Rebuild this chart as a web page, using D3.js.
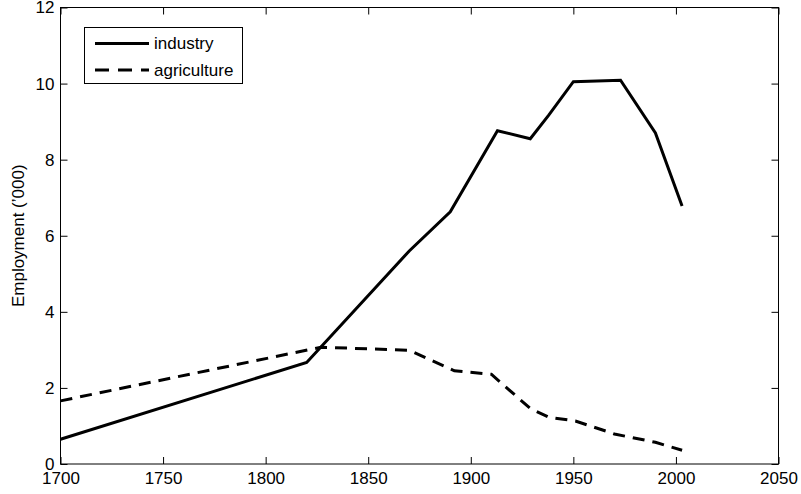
<!DOCTYPE html>
<html><head><meta charset="utf-8">
<script src="https://cdn.jsdelivr.net/npm/d3@7"></script>
<style>
body{margin:0;background:#fff;}
text{font-family:"Liberation Sans",Arial,Helvetica,sans-serif;fill:#000;}
</style></head>
<body><svg id="c" width="801" height="494"></svg>
<script>
const industryYears = [1700,1820,1870,1890,1913,1929,1938,1950,1973,1990,2003];
const industryValues = [0.65,2.67,5.6,6.63,8.76,8.55,9.17,10.05,10.09,8.7,6.78];
const agricultureYears = [1700,1827,1870,1892,1910,1929,1938,1951,1970,1990,2003];
const agricultureValues = [1.66,3.07,2.99,2.45,2.36,1.46,1.23,1.13,0.79,0.57,0.36];
const xTicks = [1700,1750,1800,1850,1900,1950,2000,2050];
const yTicks = [0,2,4,6,8,10,12];
const seriesNames = ["industry","agriculture"];
const yLabel = "Employment (\u2019000)";

const svg = d3.select("#c");
const L=60.5, R=778.5, T=7.5, B=464;
const x = d3.scaleLinear().domain([1700,2050]).range([L,R]);
const y = d3.scaleLinear().domain([0,12]).range([B,T]);
const fs = 17;

// box
svg.append("rect").attr("x",L).attr("y",T).attr("width",R-L).attr("height",B-T)
  .attr("fill","none").attr("stroke","#000").attr("stroke-width",1);

const tl=7;
const gx = svg.append("g").attr("transform",`translate(0,${B})`)
  .call(d3.axisBottom(x).tickValues(xTicks).tickFormat(d3.format("d")).tickSizeInner(-tl).tickSizeOuter(0).tickPadding(8));
const gxt = svg.append("g").attr("transform",`translate(0,${T})`)
  .call(d3.axisTop(x).tickValues(xTicks).tickFormat("").tickSizeInner(-tl).tickSizeOuter(0));
const gy = svg.append("g").attr("transform",`translate(${L},0)`)
  .call(d3.axisLeft(y).tickValues(yTicks).tickFormat(d3.format("d")).tickSizeInner(-tl).tickSizeOuter(0).tickPadding(6));
const gyr = svg.append("g").attr("transform",`translate(${R},0)`)
  .call(d3.axisRight(y).tickValues(yTicks).tickFormat("").tickSizeInner(-tl).tickSizeOuter(0));
[gx,gxt,gy,gyr].forEach(g=>{
  g.select(".domain").remove();
  g.selectAll("line").attr("stroke","#000");
  g.selectAll("text").attr("font-size",fs).attr("font-family","Liberation Sans, Arial, sans-serif").attr("fill","#000");
});

const line = d3.line().x(d=>x(d[0])).y(d=>y(d[1]));
const ind = industryYears.map((v,i)=>[v,industryValues[i]]);
const agr = agricultureYears.map((v,i)=>[v,agricultureValues[i]]);
const dash = "12,8";
svg.append("path").datum(agr).attr("d",line).attr("fill","none").attr("stroke","#000")
  .attr("stroke-width",3).attr("stroke-dasharray",dash);
svg.append("path").datum(ind).attr("d",line).attr("fill","none").attr("stroke","#000")
  .attr("stroke-width",3).attr("stroke-linejoin","miter");

// y label
svg.append("text").attr("transform",`translate(23.5,${(T+B)/2}) rotate(-90)`)
  .attr("text-anchor","middle").attr("font-size",fs).text(yLabel);

// legend
const lg = svg.append("g");
lg.append("rect").attr("x",84.5).attr("y",27.5).attr("width",158).attr("height",56)
  .attr("fill","#fff").attr("stroke","#000").attr("stroke-width",1);
const rows=[43.5,70];
seriesNames.forEach((n,i)=>{
  lg.append("line").attr("x1",95).attr("x2",149).attr("y1",rows[i]).attr("y2",rows[i])
    .attr("stroke","#000").attr("stroke-width",3).attr("stroke-dasharray",i?"14,9":null);
  lg.append("text").attr("x",154).attr("y",rows[i]).attr("dy","0.35em").attr("font-size",fs).text(n);
});
</script></body></html>
